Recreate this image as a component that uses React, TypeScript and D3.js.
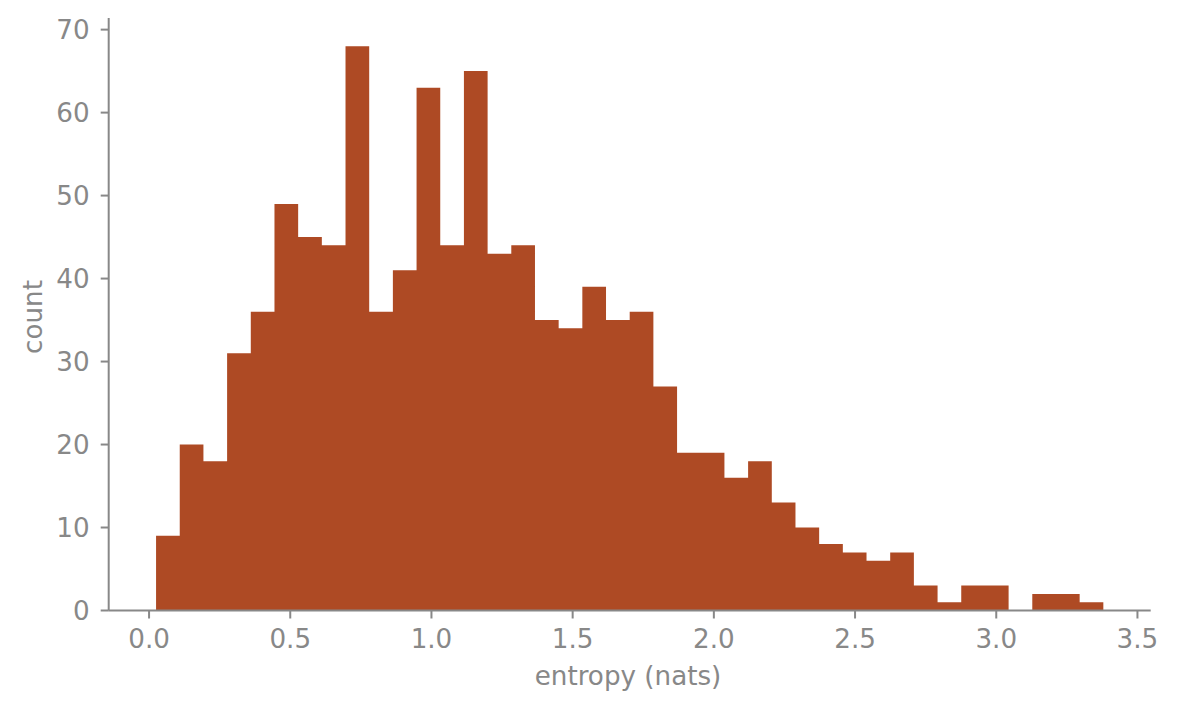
import React from "react";
import * as d3 from "d3";

const binStart = 0.0248;
const binWidth = 0.08386;
const counts = [9, 20, 18, 31, 36, 49, 45, 44, 68, 36, 41, 63, 44, 65, 43, 44, 35, 34, 39, 35, 36, 27, 19, 19, 16, 18, 13, 10, 8, 7, 6, 7, 3, 1, 3, 3, 0, 2, 2, 1];
const xTicks = [0, 0.5, 1.0, 1.5, 2.0, 2.5, 3.0, 3.5];
const yTicks = [0, 10, 20, 30, 40, 50, 60, 70];

const W = 1177, H = 711;
const gray = "#888888";
const barColor = "#AE4A24";
const font = "DejaVu Sans";
const fs = 26.2;

export default function App() {
  const binEnd = binStart + binWidth * counts.length;
  const span = binEnd - binStart;
  const x = d3.scaleLinear().domain([binStart - 0.05 * span, binEnd + 0.05 * span]).range([108.7, 1150.7]);
  const yMax = (d3.max(counts) as number) * 1.05;
  const y = d3.scaleLinear().domain([0, yMax]).range([610.5, 18]);
  const bins = counts.map((c, i) => ({ x0: binStart + i * binWidth, x1: binStart + (i + 1) * binWidth, c }));
  const p = d3.path();
  p.moveTo(x(bins[0].x0), y(0));
  bins.forEach((b) => {
    p.lineTo(x(b.x0), y(b.c));
    p.lineTo(x(b.x1), y(b.c));
  });
  p.lineTo(x(bins[bins.length - 1].x1), y(0));
  p.closePath();
  return (
    <svg width={W} height={H} style={{ position: "absolute", left: 0, top: 0 }}>
      <rect width={W} height={H} fill="#fff" />
      <path d={p.toString()} fill={barColor} />
      <line x1={x.range()[0]} x2={x.range()[0]} y1={y.range()[1]} y2={y.range()[0]} stroke={gray} strokeWidth={2} />
      <line x1={x.range()[0]} x2={x.range()[1]} y1={y(0)} y2={y(0)} stroke={gray} strokeWidth={2} />
      {xTicks.map((t) => (
        <g key={t}>
          <line x1={x(t)} x2={x(t)} y1={y(0)} y2={y(0) + 8} stroke={gray} strokeWidth={2} />
          <text x={x(t)} y={648} textAnchor="middle" fontFamily={font} fontSize={fs} fill={gray}>{t.toFixed(1)}</text>
        </g>
      ))}
      {yTicks.map((t) => (
        <g key={t}>
          <line x1={x.range()[0] - 8} x2={x.range()[0]} y1={y(t)} y2={y(t)} stroke={gray} strokeWidth={2} />
          <text x={x.range()[0] - 19} y={y(t) + 9.5} textAnchor="end" fontFamily={font} fontSize={fs} fill={gray}>{t}</text>
        </g>
      ))}
      <text x={628} y={685} textAnchor="middle" fontFamily={font} fontSize={fs} fill={gray}>entropy (nats)</text>
      <text transform={`translate(42,317) rotate(-90)`} textAnchor="middle" fontFamily={font} fontSize={fs} fill={gray}>count</text>
    </svg>
  );
}
